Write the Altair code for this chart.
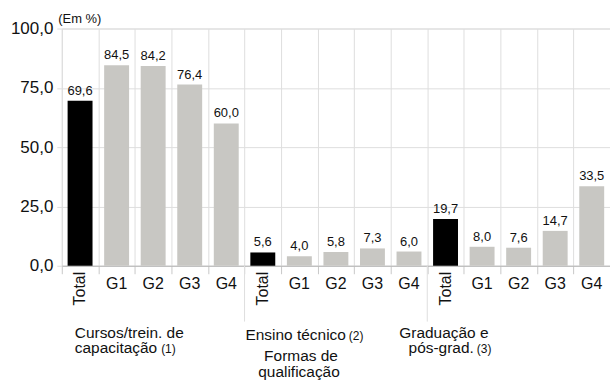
import altair as alt
import pandas as pd

# Share of workers by qualification type (%), total and by group
segments = ["Total", "G1", "G2", "G3", "G4"]
cursos = [69.6, 84.5, 84.2, 76.4, 60.0]
ensino = [5.6, 4.0, 5.8, 7.3, 6.0]
graduacao = [19.7, 8.0, 7.6, 14.7, 33.5]
y_ticks = [0, 25, 50, 75, 100]

FONT = "Liberation Sans"
W, H = 550, 238

rows = []
for gi, vals in enumerate([cursos, ensino, graduacao]):
    for si, (seg, v) in enumerate(zip(segments, vals)):
        rows.append({
            "key": f"{gi}{si}",
            "seg": seg,
            "value": v,
            "label": f"{v:.1f}".replace(".", ","),
            "kind": "total" if seg == "Total" else "grupo",
        })
df = pd.DataFrame(rows)
order = list(df["key"])

xscale = alt.Scale(domain=order, paddingInner=0, paddingOuter=0)
yscale = alt.Scale(domain=[0, 100])


def xenc(**kw):
    return alt.X("key:N", scale=xscale, **kw)


bars = alt.Chart(df).mark_bar(size=25).encode(
    x=alt.X("key:N", scale=xscale, axis=alt.Axis(
        title=None, labels=False, tickBand="extent", grid=True,
        gridColor="#dedede", tickColor="#c8c8c8", tickSize=8,
        domainColor="#b8b8b8")),
    y=alt.Y("value:Q", scale=yscale, axis=alt.Axis(
        values=y_ticks,
        labelExpr="replace(format(datum.value, '.1f'), '.', ',')",
        labelFontSize=17, labelColor="#111111", labelFont=FONT,
        labelPadding=4, tickSize=5, tickColor="#dedede", domain=False,
        grid=True, gridColor="#dedede",
        title="(Em %)", titleAngle=0, titleAlign="left",
        titleBaseline="alphabetic", titleX=-4, titleY=-6,
        titleFontSize=13, titleFontWeight="normal", titleFont=FONT,
        titleColor="#111111")),
    color=alt.Color("kind:N", scale=alt.Scale(
        domain=["total", "grupo"], range=["#000000", "#c8c7c3"]), legend=None),
)

values = alt.Chart(df).mark_text(
    baseline="bottom", dy=-3, fontSize=13, font=FONT, color="#111111"
).encode(x=xenc(), y=alt.Y("value:Q", scale=yscale), text="label:N")

seg_labels = alt.Chart(df).transform_filter(
    "datum.seg != 'Total'"
).mark_text(baseline="middle", fontSize=16, font=FONT, color="#111111").encode(
    x=xenc(), y=alt.value(H + 18), text="seg:N")

total_labels = alt.Chart(df).transform_filter(
    "datum.seg == 'Total'"
).mark_text(angle=270, align="right", baseline="middle", fontSize=16,
            font=FONT, color="#111111").encode(
    x=xenc(), y=alt.value(H + 6), text="seg:N")

seps = alt.Chart(pd.DataFrame({"key": ["10", "20"]})).mark_rule(
    color="#dedede").encode(
    x=xenc(bandPosition=0), y=alt.value(H), y2=alt.value(H + 56))

# Group captions: (anchor category, text, dx, y, align, font size)
captions = [
    ("02", "Cursos/trein. de", -24, H + 67, "center", 15.5),
    ("02", "capacitação", 4, H + 83, "right", 15.5),
    ("02", "(1)", 8, H + 84, "left", 12),
    ("12", "Ensino técnico", 10, H + 69, "right", 15.5),
    ("12", "(2)", 13, H + 70, "left", 12),
    ("12", "Formas de", -35, H + 91, "center", 15.5),
    ("12", "qualificação", -37, H + 107, "center", 15.5),
    ("22", "Graduação e", -75, H + 67, "center", 15.5),
    ("22", "pós-grad.", -45, H + 83, "right", 15.5),
    ("22", "(3)", -42, H + 84, "left", 12),
]
caption_layers = []
for key, text, dx, ypos, align, size in captions:
    caption_layers.append(
        alt.Chart(pd.DataFrame({"key": [key], "t": [text]})).mark_text(
            align=align, baseline="middle", dx=dx, fontSize=size, font=FONT,
            color="#111111").encode(x=xenc(), y=alt.value(ypos), text="t:N"))

chart = alt.layer(
    bars, values, seg_labels, total_labels, seps, *caption_layers
).properties(
    width=W, height=H,
    autosize=alt.AutoSizeParams(type="none"),
    padding={"left": 62, "top": 28, "right": 0, "bottom": 380 - 28 - H},
).configure_view(stroke=None).configure(background="white")

chart.save("out.html", embed_options={"renderer": "svg", "actions": False})
